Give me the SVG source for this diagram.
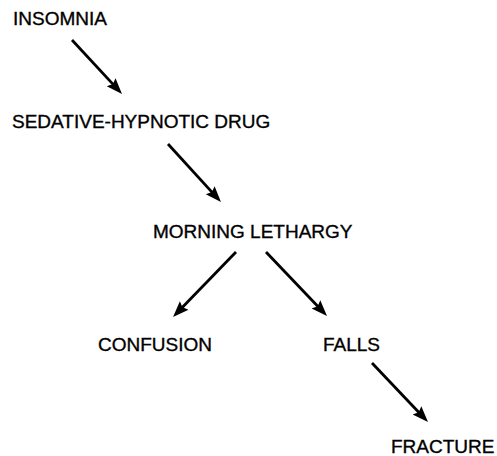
<svg xmlns="http://www.w3.org/2000/svg" width="497" height="456" viewBox="0 0 497 456">
<style>
text{font-family:"Liberation Sans",Arial,Helvetica,sans-serif;font-size:19px;fill:#000;stroke:#000;stroke-width:0.35}
.c{stroke:#000;stroke-width:2.8;fill:none;marker-end:url(#ah)}
</style>
<defs>
<marker id="ah" markerUnits="userSpaceOnUse" markerWidth="18" markerHeight="14" refX="7" refY="6" orient="auto">
<path d="M0,0 L16,6 L0,12 L2.5,6 z" fill="#000"/>
</marker>
</defs>
<rect width="497" height="456" fill="#fff"/>
<g id="connectors">
<line class="c" x1="72" y1="40" x2="115.9" y2="87.4"/>
<line class="c" x1="168" y1="144" x2="214.9" y2="195.4"/>
<line class="c" x1="236" y1="252" x2="179.3" y2="310.5"/>
<line class="c" x1="266" y1="252" x2="320.8" y2="309.5"/>
<line class="c" x1="372" y1="363" x2="421.8" y2="415.5"/>
</g>
<g id="insomnia"><text x="13" y="25">INSOMNIA</text></g>
<g id="sedative"><text x="12" y="128">SEDATIVE-HYPNOTIC DRUG</text></g>
<g id="lethargy"><text x="153" y="238">MORNING LETHARGY</text></g>
<g id="confusion"><text x="98" y="351">CONFUSION</text></g>
<g id="falls"><text x="323" y="351">FALLS</text></g>
<g id="fracture"><text x="391" y="453">FRACTURE</text></g>
</svg>
